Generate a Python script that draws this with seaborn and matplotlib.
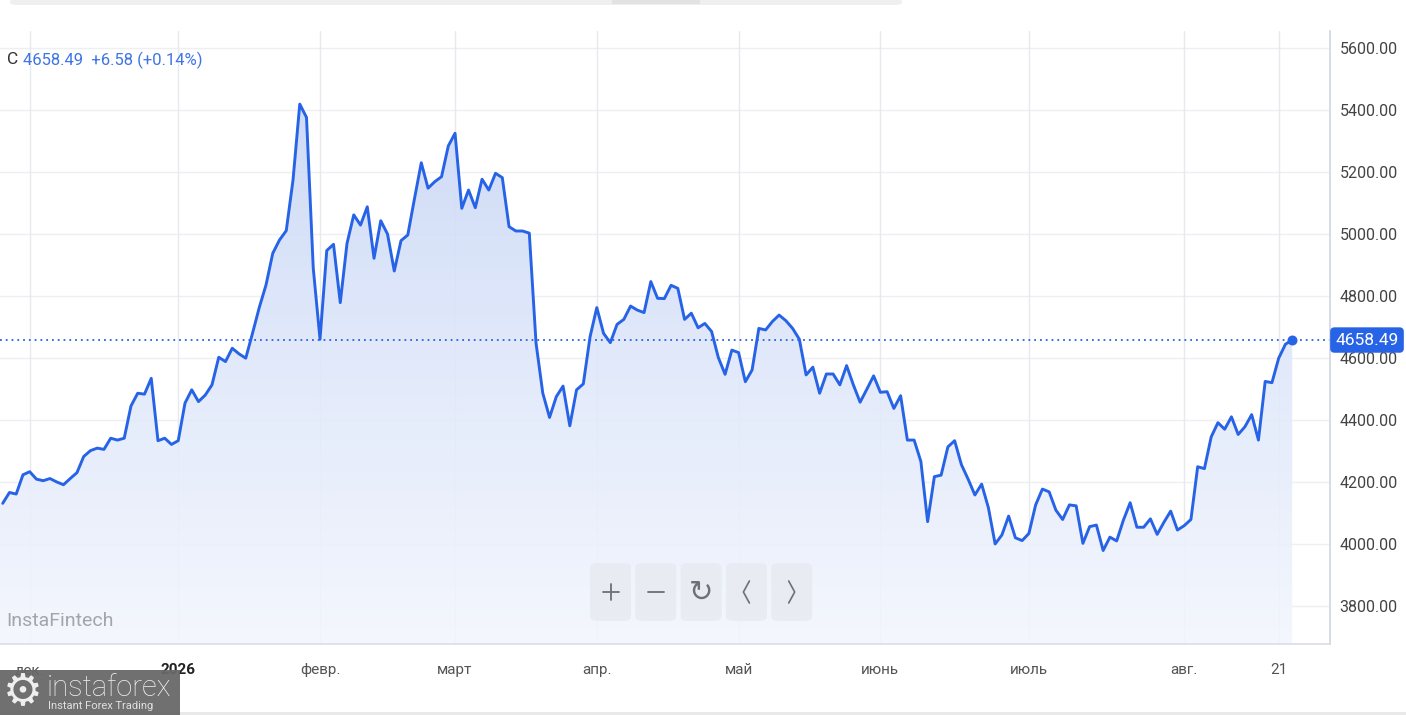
import numpy as np
import pandas as pd
import seaborn as sns
import matplotlib
matplotlib.use('Agg')
import matplotlib.pyplot as plt
from matplotlib.patches import Polygon, FancyBboxPatch, Rectangle
from matplotlib.lines import Line2D
from matplotlib.colors import LinearSegmentedColormap
from matplotlib import transforms

# Daily closes (one value per trading day)
close = [
    4132, 4167, 4162, 4224, 4234, 4210, 4205, 4212, 4201, 4192,
    4212, 4231, 4283, 4302, 4310, 4306, 4342, 4336, 4342, 4446,
    4487, 4484, 4535, 4334, 4342, 4322, 4334, 4455, 4498, 4460,
    4481, 4514, 4603, 4589, 4632, 4614, 4600, 4680, 4763, 4836,
    4938, 4981, 5011, 5174, 5419, 5376, 4890, 4661, 4947, 4967,
    4779, 4970, 5062, 5029, 5088, 4922, 5043, 5000, 4881, 4979,
    4997, 5115, 5230, 5148, 5169, 5185, 5284, 5325, 5083, 5142,
    5085, 5177, 5142, 5196, 5182, 5024, 5010, 5010, 5003, 4648,
    4487, 4409, 4476, 4510, 4382, 4498, 4517, 4669, 4763, 4680,
    4650, 4709, 4725, 4768, 4755, 4747, 4847, 4793, 4792, 4835,
    4825, 4725, 4745, 4698, 4712, 4686, 4602, 4548, 4626, 4618,
    4524, 4562, 4696, 4691, 4718, 4739, 4721, 4696, 4661, 4546,
    4571, 4487, 4549, 4549, 4514, 4576, 4514, 4458, 4500, 4543,
    4490, 4492, 4438, 4479, 4336, 4336, 4267, 4073,
    4218, 4223, 4314, 4334, 4257, 4210, 4159, 4194, 4118, 4001,
    4030, 4091, 4021, 4012, 4035, 4127, 4178, 4169, 4110, 4080,
    4127, 4124, 4003, 4057, 4062, 3980, 4023, 4011, 4078, 4134,
    4055, 4055, 4082, 4032, 4071, 4107, 4046, 4060, 4080, 4250,
    4244, 4346, 4392, 4371, 4411, 4354, 4379, 4418, 4336, 4525,
    4521, 4600, 4645, 4658.49,
]
change = 6.58
change_pct = 0.14

# first trading day of each month (index into close) and their labels
tick_idx = [4, 26, 47, 67, 88, 109, 130, 152, 175, 189]
tick_labels = ['дек.', '2026', 'февр.', 'март', 'апр.', 'май', 'июнь', 'июль', 'авг.', '21']
y_ticks = [3800, 4000, 4200, 4400, 4600, 4800, 5000, 5200, 5400, 5600]

df = pd.DataFrame({'day': np.arange(len(close)), 'close': close})
last = close[-1]

W, H = 1406, 715
BLUE = '#2763e6'

sns.set_theme(style='white')
plt.rcParams['font.family'] = ['Roboto', 'DejaVu Sans']

fig = plt.figure(figsize=(W / 100, H / 100), dpi=100)
fig.patch.set_facecolor('white')

def fx(px):
    return px / W

def fy(py):
    return 1 - py / H

ax = fig.add_axes([0, fy(644), fx(1330), (644 - 31) / H])
ax.set_facecolor('white')
ylo, yhi = 3678.6, 5654.7
ax.set_xlim(-0.4, 196.6)
ax.set_ylim(ylo, yhi)

# grid
for t in y_ticks:
    ax.axhline(t, color='#eeeff2', lw=1, zorder=0)
for t in tick_idx:
    ax.axvline(t, color='#e6e9ef', lw=1, zorder=0)

# gradient area under the line
x = df['day'].values
y = df['close'].values
verts = [(x[0] - 0.4, ylo), (x[0] - 0.4, y[0])] + list(zip(x, y)) + [(x[-1], ylo)]
poly = Polygon(verts, closed=True, fc='none', ec='none')
ax.add_patch(poly)
cmap = LinearSegmentedColormap.from_list('fill', ['#f3f6fd', '#dde6fa', '#c3d3f5'])
grad = np.linspace(0, 1, 256).reshape(-1, 1)
im = ax.imshow(grad, extent=[x[0] - 0.4, x[-1], ylo, yhi], origin='lower',
               aspect='auto', cmap=cmap, alpha=0.9, zorder=1)
im.set_clip_path(poly)

sns.lineplot(data=df, x='day', y='close', ax=ax, color=BLUE, lw=2.1, zorder=3)
ax.scatter([x[-1]], [last], s=38, color=BLUE, zorder=4)
ax.axhline(last, color=BLUE, lw=1.3, ls=(0, (1, 2.2)), zorder=2)

# axes styling
ax.set_xlabel('')
ax.set_ylabel('')
for s in ['left', 'top']:
    ax.spines[s].set_visible(False)
ax.spines['bottom'].set_color('#d9dde5')
ax.spines['right'].set_color('#cfd6e0')
ax.spines['bottom'].set_linewidth(1.2)
ax.spines['right'].set_linewidth(1.2)

ax.yaxis.tick_right()
ax.set_yticks(y_ticks)
ax.set_yticklabels([f'{t:.2f}' for t in y_ticks])
ax.tick_params(axis='y', length=0, pad=7, labelsize=11.5, labelcolor='#444444')

ax.set_xticks(tick_idx)
ax.set_xticklabels(tick_labels)
ax.tick_params(axis='x', length=5, width=1, color='#d9dde5', direction='out',
               pad=9, labelsize=11, labelcolor='#555555')
for lab in ax.get_xticklabels():
    if lab.get_text() == '2026':
        lab.set_fontweight('bold')
        lab.set_color('#222222')

# price tag on the right axis
tr = transforms.blended_transform_factory(fig.transFigure, ax.transData)
ax.text(fx(1367), last, f'{last:.2f}', transform=tr, ha='center', va='center',
        color='white', fontsize=12.5, clip_on=False, zorder=6,
        bbox=dict(boxstyle='round,pad=0.3,rounding_size=0.25', fc=BLUE, ec='none'))

# header
fig.text(fx(7), fy(60), 'C', fontsize=12.5, color='#333333', va='center', ha='left')
fig.text(fx(23), fy(60), f'{last:.2f}  +{change:.2f} (+{change_pct:.2f}%)',
         fontsize=12, color='#3d74e6', va='center', ha='left')

# watermark
fig.text(fx(6), fy(621), 'InstaFintech', fontsize=14, color='#a0a5ae', va='center', ha='left')

# navigation buttons
glyph_color = '#6d7079'
for i in range(5):
    left = 590 + i * 45.3
    cx = left + 20.5
    fig.patches.append(FancyBboxPatch((fx(left), fy(621)), fx(41), 58 / H,
                                      boxstyle='round,pad=0,rounding_size=0.006',
                                      transform=fig.transFigure, fc='#e6e9ef',
                                      ec='none', alpha=0.75))
    if i == 0:
        fig.lines.append(Line2D([fx(cx - 8), fx(cx + 8)], [fy(592), fy(592)],
                                transform=fig.transFigure, color=glyph_color, lw=1.3))
        fig.lines.append(Line2D([fx(cx), fx(cx)], [fy(584), fy(600)],
                                transform=fig.transFigure, color=glyph_color, lw=1.3))
    elif i == 1:
        fig.lines.append(Line2D([fx(cx - 8), fx(cx + 8)], [fy(592), fy(592)],
                                transform=fig.transFigure, color=glyph_color, lw=1.3))
    elif i == 2:
        fig.text(fx(cx), fy(593), '\u21bb', fontsize=21, color=glyph_color,
                 ha='center', va='center', family=['DejaVu Sans'])
    else:
        d = -1 if i == 3 else 1
        fig.lines.append(Line2D([fx(cx - 3 * d), fx(cx + 3 * d), fx(cx - 3 * d)],
                                [fy(581), fy(592), fy(603)],
                                transform=fig.transFigure, color=glyph_color, lw=1.2))

# top bar
fig.patches.append(FancyBboxPatch((fx(10), fy(5)), fx(892), 6 / H,
                                  boxstyle='round,pad=0,rounding_size=0.004',
                                  transform=fig.transFigure, fc='#efefef', ec='none'))
fig.patches.append(Rectangle((fx(612), fy(4)), fx(88), 4 / H, transform=fig.transFigure,
                             fc='#e2e2e4', ec='none'))
# bottom line
fig.patches.append(Rectangle((0, 0), 1, 3 / H, transform=fig.transFigure,
                             fc='#e9e9e9', ec='none'))

# logo
fig.patches.append(Rectangle((0, 0), fx(180), 45 / H, transform=fig.transFigure,
                             fc='#686868', ec='none', alpha=0.95, zorder=5))
fig.text(fx(23), fy(692), '\u2699', fontsize=32, color='#eeeeee', ha='center', va='center',
         family=['DejaVu Sans'], zorder=6)
fig.text(fx(47), fy(688), 'instaforex', fontsize=21, color='#eeeeee', ha='left',
         va='center', fontweight='light', zorder=6)
fig.text(fx(48), fy(706), 'Instant Forex Trading', fontsize=8, color='#e0e0e0',
         ha='left', va='center', zorder=6)

fig.savefig('out.png', dpi=100)
